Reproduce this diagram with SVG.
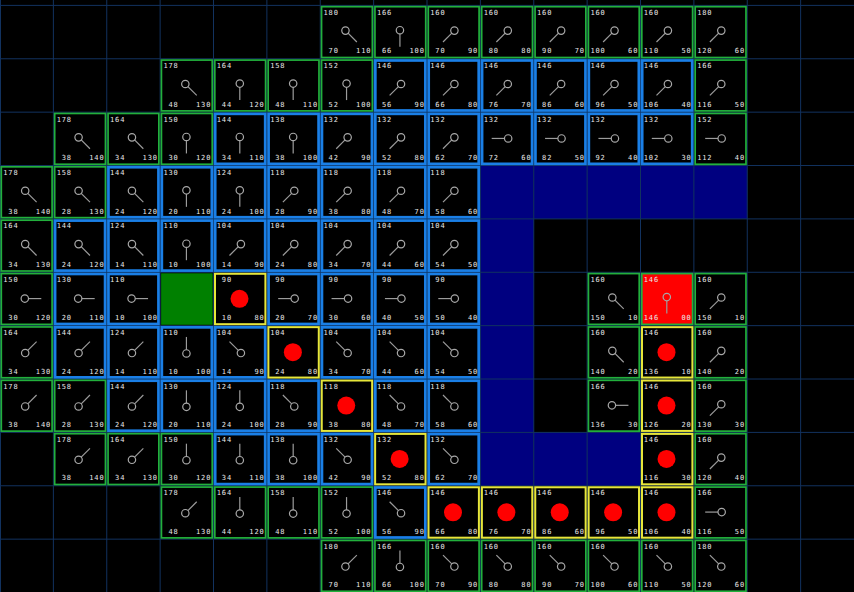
<svg xmlns="http://www.w3.org/2000/svg" xmlns:xlink="http://www.w3.org/1999/xlink" width="854" height="592" viewBox="0 0 854 592">
<style>
.t{font-family:"DejaVu Sans Mono","Liberation Mono",monospace;font-size:7px;letter-spacing:0.9px;fill:#e8e8e8;text-anchor:end}
.ptr line{stroke:#9c9c9c;stroke-width:1.2}
.ptr circle{stroke:#a8a8a8;stroke-width:1.2;fill:none}
.wall{fill:#000080}
.grid{stroke:#12325f;stroke-width:1;fill:none}
</style>
<defs>
<rect id="bo" x="1.3" y="1.3" width="50.8" height="50.8" fill="#000" stroke="#22b03c" stroke-width="1.7"/>
<rect id="bc" x="1.7" y="1.7" width="50" height="50" fill="#000" stroke="#1a7fe6" stroke-width="2.7"/>
<g id="bp"><rect x="1.5" y="1.5" width="50.4" height="50.4" fill="#000" stroke="#e6e63a" stroke-width="2"/><circle cx="26" cy="26.5" r="9" fill="#ff0000"/></g>
<rect id="bg" x="1.3" y="1.3" width="50.8" height="50.8" fill="#ff0000" stroke="#22b03c" stroke-width="1.7"/>
<g id="d" class="ptr"><line x1="26.3" y1="28.5" x2="26.3" y2="41.3"/><circle cx="26.3" cy="24.8" r="3.7"/></g>
<g id="u" class="ptr"><line x1="26.3" y1="24.1" x2="26.3" y2="11.3"/><circle cx="26.3" cy="27.8" r="3.7"/></g>
<g id="r" class="ptr"><line x1="28.5" y1="26.3" x2="41.3" y2="26.3"/><circle cx="24.8" cy="26.3" r="3.7"/></g>
<g id="l" class="ptr"><line x1="24.1" y1="26.3" x2="11.3" y2="26.3"/><circle cx="27.8" cy="26.3" r="3.7"/></g>
<g id="dr" class="ptr"><line x1="27.8" y1="27.8" x2="36.6" y2="36.6"/><circle cx="25.2" cy="25.2" r="3.7"/></g>
<g id="dl" class="ptr"><line x1="24.8" y1="27.8" x2="16" y2="36.6"/><circle cx="27.4" cy="25.2" r="3.7"/></g>
<g id="ur" class="ptr"><line x1="27.8" y1="24.8" x2="36.6" y2="16"/><circle cx="25.2" cy="27.4" r="3.7"/></g>
<g id="ul" class="ptr"><line x1="24.8" y1="24.8" x2="16" y2="16"/><circle cx="27.4" cy="27.4" r="3.7"/></g>
</defs>
<rect width="854" height="592" fill="#000"/>
<g id="walls">
<rect class="wall" x="480.38" y="165.53" width="53.38" height="320.25"/>
<rect class="wall" x="533.75" y="165.53" width="213.5" height="53.38"/>
<rect class="wall" x="533.75" y="432.4" width="106.75" height="53.38"/>
</g>
<path id="grid" class="grid" d="M0.5 0V592M53.38 0V592M106.75 0V592M160.13 0V592M213.5 0V592M266.88 0V592M320.25 0V592M373.63 0V592M427 0V592M480.38 0V592M533.75 0V592M587.13 0V592M640.5 0V592M693.88 0V592M747.25 0V592M800.63 0V592M0 5.4H854M0 58.78H854M0 112.15H854M0 165.53H854M0 218.9H854M0 272.28H854M0 325.65H854M0 379.03H854M0 432.4H854M0 485.78H854M0 539.15H854"/>
<g id="start" transform="translate(160.13,272.28)"><rect x="1" y="1" width="51.5" height="51.5" fill="#008000"/></g>
<g id="nodes">
<!-- row 0 -->
<g id="r0c6" transform="translate(320.25,5.4)"><use href="#bo"/><text class="t" x="18.6" y="9.6">180</text><text class="t" x="18.6" y="48">70</text><text class="t" x="51.2" y="48">110</text></g>
<g id="r0c7" transform="translate(373.63,5.4)"><use href="#bo"/><text class="t" x="18.6" y="9.6">166</text><text class="t" x="18.6" y="48">66</text><text class="t" x="51.2" y="48">100</text></g>
<g id="r0c8" transform="translate(427,5.4)"><use href="#bo"/><text class="t" x="18.6" y="9.6">160</text><text class="t" x="18.6" y="48">70</text><text class="t" x="51.2" y="48">90</text></g>
<g id="r0c9" transform="translate(480.38,5.4)"><use href="#bo"/><text class="t" x="18.6" y="9.6">160</text><text class="t" x="18.6" y="48">80</text><text class="t" x="51.2" y="48">80</text></g>
<g id="r0c10" transform="translate(533.75,5.4)"><use href="#bo"/><text class="t" x="18.6" y="9.6">160</text><text class="t" x="18.6" y="48">90</text><text class="t" x="51.2" y="48">70</text></g>
<g id="r0c11" transform="translate(587.13,5.4)"><use href="#bo"/><text class="t" x="18.6" y="9.6">160</text><text class="t" x="18.6" y="48">100</text><text class="t" x="51.2" y="48">60</text></g>
<g id="r0c12" transform="translate(640.5,5.4)"><use href="#bo"/><text class="t" x="18.6" y="9.6">160</text><text class="t" x="18.6" y="48">110</text><text class="t" x="51.2" y="48">50</text></g>
<g id="r0c13" transform="translate(693.88,5.4)"><use href="#bo"/><text class="t" x="18.6" y="9.6">180</text><text class="t" x="18.6" y="48">120</text><text class="t" x="51.2" y="48">60</text></g>
<!-- row 1 -->
<g id="r1c3" transform="translate(160.13,58.78)"><use href="#bo"/><text class="t" x="18.6" y="9.6">178</text><text class="t" x="18.6" y="48">48</text><text class="t" x="51.2" y="48">130</text></g>
<g id="r1c4" transform="translate(213.5,58.78)"><use href="#bo"/><text class="t" x="18.6" y="9.6">164</text><text class="t" x="18.6" y="48">44</text><text class="t" x="51.2" y="48">120</text></g>
<g id="r1c5" transform="translate(266.88,58.78)"><use href="#bo"/><text class="t" x="18.6" y="9.6">158</text><text class="t" x="18.6" y="48">48</text><text class="t" x="51.2" y="48">110</text></g>
<g id="r1c6" transform="translate(320.25,58.78)"><use href="#bo"/><text class="t" x="18.6" y="9.6">152</text><text class="t" x="18.6" y="48">52</text><text class="t" x="51.2" y="48">100</text></g>
<g id="r1c7" transform="translate(373.63,58.78)"><use href="#bc"/><text class="t" x="18.6" y="9.6">146</text><text class="t" x="18.6" y="48">56</text><text class="t" x="51.2" y="48">90</text></g>
<g id="r1c8" transform="translate(427,58.78)"><use href="#bc"/><text class="t" x="18.6" y="9.6">146</text><text class="t" x="18.6" y="48">66</text><text class="t" x="51.2" y="48">80</text></g>
<g id="r1c9" transform="translate(480.38,58.78)"><use href="#bc"/><text class="t" x="18.6" y="9.6">146</text><text class="t" x="18.6" y="48">76</text><text class="t" x="51.2" y="48">70</text></g>
<g id="r1c10" transform="translate(533.75,58.78)"><use href="#bc"/><text class="t" x="18.6" y="9.6">146</text><text class="t" x="18.6" y="48">86</text><text class="t" x="51.2" y="48">60</text></g>
<g id="r1c11" transform="translate(587.13,58.78)"><use href="#bc"/><text class="t" x="18.6" y="9.6">146</text><text class="t" x="18.6" y="48">96</text><text class="t" x="51.2" y="48">50</text></g>
<g id="r1c12" transform="translate(640.5,58.78)"><use href="#bc"/><text class="t" x="18.6" y="9.6">146</text><text class="t" x="18.6" y="48">106</text><text class="t" x="51.2" y="48">40</text></g>
<g id="r1c13" transform="translate(693.88,58.78)"><use href="#bo"/><text class="t" x="18.6" y="9.6">166</text><text class="t" x="18.6" y="48">116</text><text class="t" x="51.2" y="48">50</text></g>
<!-- row 2 -->
<g id="r2c1" transform="translate(53.38,112.15)"><use href="#bo"/><text class="t" x="18.6" y="9.6">178</text><text class="t" x="18.6" y="48">38</text><text class="t" x="51.2" y="48">140</text></g>
<g id="r2c2" transform="translate(106.75,112.15)"><use href="#bo"/><text class="t" x="18.6" y="9.6">164</text><text class="t" x="18.6" y="48">34</text><text class="t" x="51.2" y="48">130</text></g>
<g id="r2c3" transform="translate(160.13,112.15)"><use href="#bo"/><text class="t" x="18.6" y="9.6">150</text><text class="t" x="18.6" y="48">30</text><text class="t" x="51.2" y="48">120</text></g>
<g id="r2c4" transform="translate(213.5,112.15)"><use href="#bc"/><text class="t" x="18.6" y="9.6">144</text><text class="t" x="18.6" y="48">34</text><text class="t" x="51.2" y="48">110</text></g>
<g id="r2c5" transform="translate(266.88,112.15)"><use href="#bc"/><text class="t" x="18.6" y="9.6">138</text><text class="t" x="18.6" y="48">38</text><text class="t" x="51.2" y="48">100</text></g>
<g id="r2c6" transform="translate(320.25,112.15)"><use href="#bc"/><text class="t" x="18.6" y="9.6">132</text><text class="t" x="18.6" y="48">42</text><text class="t" x="51.2" y="48">90</text></g>
<g id="r2c7" transform="translate(373.63,112.15)"><use href="#bc"/><text class="t" x="18.6" y="9.6">132</text><text class="t" x="18.6" y="48">52</text><text class="t" x="51.2" y="48">80</text></g>
<g id="r2c8" transform="translate(427,112.15)"><use href="#bc"/><text class="t" x="18.6" y="9.6">132</text><text class="t" x="18.6" y="48">62</text><text class="t" x="51.2" y="48">70</text></g>
<g id="r2c9" transform="translate(480.38,112.15)"><use href="#bc"/><text class="t" x="18.6" y="9.6">132</text><text class="t" x="18.6" y="48">72</text><text class="t" x="51.2" y="48">60</text></g>
<g id="r2c10" transform="translate(533.75,112.15)"><use href="#bc"/><text class="t" x="18.6" y="9.6">132</text><text class="t" x="18.6" y="48">82</text><text class="t" x="51.2" y="48">50</text></g>
<g id="r2c11" transform="translate(587.13,112.15)"><use href="#bc"/><text class="t" x="18.6" y="9.6">132</text><text class="t" x="18.6" y="48">92</text><text class="t" x="51.2" y="48">40</text></g>
<g id="r2c12" transform="translate(640.5,112.15)"><use href="#bc"/><text class="t" x="18.6" y="9.6">132</text><text class="t" x="18.6" y="48">102</text><text class="t" x="51.2" y="48">30</text></g>
<g id="r2c13" transform="translate(693.88,112.15)"><use href="#bo"/><text class="t" x="18.6" y="9.6">152</text><text class="t" x="18.6" y="48">112</text><text class="t" x="51.2" y="48">40</text></g>
<!-- row 3 -->
<g id="r3c0" transform="translate(0,165.53)"><use href="#bo"/><text class="t" x="18.6" y="9.6">178</text><text class="t" x="18.6" y="48">38</text><text class="t" x="51.2" y="48">140</text></g>
<g id="r3c1" transform="translate(53.38,165.53)"><use href="#bo"/><text class="t" x="18.6" y="9.6">158</text><text class="t" x="18.6" y="48">28</text><text class="t" x="51.2" y="48">130</text></g>
<g id="r3c2" transform="translate(106.75,165.53)"><use href="#bc"/><text class="t" x="18.6" y="9.6">144</text><text class="t" x="18.6" y="48">24</text><text class="t" x="51.2" y="48">120</text></g>
<g id="r3c3" transform="translate(160.13,165.53)"><use href="#bc"/><text class="t" x="18.6" y="9.6">130</text><text class="t" x="18.6" y="48">20</text><text class="t" x="51.2" y="48">110</text></g>
<g id="r3c4" transform="translate(213.5,165.53)"><use href="#bc"/><text class="t" x="18.6" y="9.6">124</text><text class="t" x="18.6" y="48">24</text><text class="t" x="51.2" y="48">100</text></g>
<g id="r3c5" transform="translate(266.88,165.53)"><use href="#bc"/><text class="t" x="18.6" y="9.6">118</text><text class="t" x="18.6" y="48">28</text><text class="t" x="51.2" y="48">90</text></g>
<g id="r3c6" transform="translate(320.25,165.53)"><use href="#bc"/><text class="t" x="18.6" y="9.6">118</text><text class="t" x="18.6" y="48">38</text><text class="t" x="51.2" y="48">80</text></g>
<g id="r3c7" transform="translate(373.63,165.53)"><use href="#bc"/><text class="t" x="18.6" y="9.6">118</text><text class="t" x="18.6" y="48">48</text><text class="t" x="51.2" y="48">70</text></g>
<g id="r3c8" transform="translate(427,165.53)"><use href="#bc"/><text class="t" x="18.6" y="9.6">118</text><text class="t" x="18.6" y="48">58</text><text class="t" x="51.2" y="48">60</text></g>
<!-- row 4 -->
<g id="r4c0" transform="translate(0,218.9)"><use href="#bo"/><text class="t" x="18.6" y="9.6">164</text><text class="t" x="18.6" y="48">34</text><text class="t" x="51.2" y="48">130</text></g>
<g id="r4c1" transform="translate(53.38,218.9)"><use href="#bc"/><text class="t" x="18.6" y="9.6">144</text><text class="t" x="18.6" y="48">24</text><text class="t" x="51.2" y="48">120</text></g>
<g id="r4c2" transform="translate(106.75,218.9)"><use href="#bc"/><text class="t" x="18.6" y="9.6">124</text><text class="t" x="18.6" y="48">14</text><text class="t" x="51.2" y="48">110</text></g>
<g id="r4c3" transform="translate(160.13,218.9)"><use href="#bc"/><text class="t" x="18.6" y="9.6">110</text><text class="t" x="18.6" y="48">10</text><text class="t" x="51.2" y="48">100</text></g>
<g id="r4c4" transform="translate(213.5,218.9)"><use href="#bc"/><text class="t" x="18.6" y="9.6">104</text><text class="t" x="18.6" y="48">14</text><text class="t" x="51.2" y="48">90</text></g>
<g id="r4c5" transform="translate(266.88,218.9)"><use href="#bc"/><text class="t" x="18.6" y="9.6">104</text><text class="t" x="18.6" y="48">24</text><text class="t" x="51.2" y="48">80</text></g>
<g id="r4c6" transform="translate(320.25,218.9)"><use href="#bc"/><text class="t" x="18.6" y="9.6">104</text><text class="t" x="18.6" y="48">34</text><text class="t" x="51.2" y="48">70</text></g>
<g id="r4c7" transform="translate(373.63,218.9)"><use href="#bc"/><text class="t" x="18.6" y="9.6">104</text><text class="t" x="18.6" y="48">44</text><text class="t" x="51.2" y="48">60</text></g>
<g id="r4c8" transform="translate(427,218.9)"><use href="#bc"/><text class="t" x="18.6" y="9.6">104</text><text class="t" x="18.6" y="48">54</text><text class="t" x="51.2" y="48">50</text></g>
<!-- row 5 -->
<g id="r5c0" transform="translate(0,272.28)"><use href="#bo"/><text class="t" x="18.6" y="9.6">150</text><text class="t" x="18.6" y="48">30</text><text class="t" x="51.2" y="48">120</text></g>
<g id="r5c1" transform="translate(53.38,272.28)"><use href="#bc"/><text class="t" x="18.6" y="9.6">130</text><text class="t" x="18.6" y="48">20</text><text class="t" x="51.2" y="48">110</text></g>
<g id="r5c2" transform="translate(106.75,272.28)"><use href="#bc"/><text class="t" x="18.6" y="9.6">110</text><text class="t" x="18.6" y="48">10</text><text class="t" x="51.2" y="48">100</text></g>
<g id="r5c4" transform="translate(213.5,272.28)"><use href="#bp"/><text class="t" x="18.6" y="9.6">90</text><text class="t" x="18.6" y="48">10</text><text class="t" x="51.2" y="48">80</text></g>
<g id="r5c5" transform="translate(266.88,272.28)"><use href="#bc"/><text class="t" x="18.6" y="9.6">90</text><text class="t" x="18.6" y="48">20</text><text class="t" x="51.2" y="48">70</text></g>
<g id="r5c6" transform="translate(320.25,272.28)"><use href="#bc"/><text class="t" x="18.6" y="9.6">90</text><text class="t" x="18.6" y="48">30</text><text class="t" x="51.2" y="48">60</text></g>
<g id="r5c7" transform="translate(373.63,272.28)"><use href="#bc"/><text class="t" x="18.6" y="9.6">90</text><text class="t" x="18.6" y="48">40</text><text class="t" x="51.2" y="48">50</text></g>
<g id="r5c8" transform="translate(427,272.28)"><use href="#bc"/><text class="t" x="18.6" y="9.6">90</text><text class="t" x="18.6" y="48">50</text><text class="t" x="51.2" y="48">40</text></g>
<g id="r5c11" transform="translate(587.13,272.28)"><use href="#bo"/><text class="t" x="18.6" y="9.6">160</text><text class="t" x="18.6" y="48">150</text><text class="t" x="51.2" y="48">10</text></g>
<g id="goal" transform="translate(640.5,272.28)"><use href="#bg"/><text class="t" x="18.6" y="9.6">146</text><text class="t" x="18.6" y="48">146</text><text class="t" x="51.2" y="48">00</text></g>
<g id="r5c13" transform="translate(693.88,272.28)"><use href="#bo"/><text class="t" x="18.6" y="9.6">160</text><text class="t" x="18.6" y="48">150</text><text class="t" x="51.2" y="48">10</text></g>
<!-- row 6 -->
<g id="r6c0" transform="translate(0,325.65)"><use href="#bo"/><text class="t" x="18.6" y="9.6">164</text><text class="t" x="18.6" y="48">34</text><text class="t" x="51.2" y="48">130</text></g>
<g id="r6c1" transform="translate(53.38,325.65)"><use href="#bc"/><text class="t" x="18.6" y="9.6">144</text><text class="t" x="18.6" y="48">24</text><text class="t" x="51.2" y="48">120</text></g>
<g id="r6c2" transform="translate(106.75,325.65)"><use href="#bc"/><text class="t" x="18.6" y="9.6">124</text><text class="t" x="18.6" y="48">14</text><text class="t" x="51.2" y="48">110</text></g>
<g id="r6c3" transform="translate(160.13,325.65)"><use href="#bc"/><text class="t" x="18.6" y="9.6">110</text><text class="t" x="18.6" y="48">10</text><text class="t" x="51.2" y="48">100</text></g>
<g id="r6c4" transform="translate(213.5,325.65)"><use href="#bc"/><text class="t" x="18.6" y="9.6">104</text><text class="t" x="18.6" y="48">14</text><text class="t" x="51.2" y="48">90</text></g>
<g id="r6c5" transform="translate(266.88,325.65)"><use href="#bp"/><text class="t" x="18.6" y="9.6">104</text><text class="t" x="18.6" y="48">24</text><text class="t" x="51.2" y="48">80</text></g>
<g id="r6c6" transform="translate(320.25,325.65)"><use href="#bc"/><text class="t" x="18.6" y="9.6">104</text><text class="t" x="18.6" y="48">34</text><text class="t" x="51.2" y="48">70</text></g>
<g id="r6c7" transform="translate(373.63,325.65)"><use href="#bc"/><text class="t" x="18.6" y="9.6">104</text><text class="t" x="18.6" y="48">44</text><text class="t" x="51.2" y="48">60</text></g>
<g id="r6c8" transform="translate(427,325.65)"><use href="#bc"/><text class="t" x="18.6" y="9.6">104</text><text class="t" x="18.6" y="48">54</text><text class="t" x="51.2" y="48">50</text></g>
<g id="r6c11" transform="translate(587.13,325.65)"><use href="#bo"/><text class="t" x="18.6" y="9.6">160</text><text class="t" x="18.6" y="48">140</text><text class="t" x="51.2" y="48">20</text></g>
<g id="r6c12" transform="translate(640.5,325.65)"><use href="#bp"/><text class="t" x="18.6" y="9.6">146</text><text class="t" x="18.6" y="48">136</text><text class="t" x="51.2" y="48">10</text></g>
<g id="r6c13" transform="translate(693.88,325.65)"><use href="#bo"/><text class="t" x="18.6" y="9.6">160</text><text class="t" x="18.6" y="48">140</text><text class="t" x="51.2" y="48">20</text></g>
<!-- row 7 -->
<g id="r7c0" transform="translate(0,379.03)"><use href="#bo"/><text class="t" x="18.6" y="9.6">178</text><text class="t" x="18.6" y="48">38</text><text class="t" x="51.2" y="48">140</text></g>
<g id="r7c1" transform="translate(53.38,379.03)"><use href="#bo"/><text class="t" x="18.6" y="9.6">158</text><text class="t" x="18.6" y="48">28</text><text class="t" x="51.2" y="48">130</text></g>
<g id="r7c2" transform="translate(106.75,379.03)"><use href="#bc"/><text class="t" x="18.6" y="9.6">144</text><text class="t" x="18.6" y="48">24</text><text class="t" x="51.2" y="48">120</text></g>
<g id="r7c3" transform="translate(160.13,379.03)"><use href="#bc"/><text class="t" x="18.6" y="9.6">130</text><text class="t" x="18.6" y="48">20</text><text class="t" x="51.2" y="48">110</text></g>
<g id="r7c4" transform="translate(213.5,379.03)"><use href="#bc"/><text class="t" x="18.6" y="9.6">124</text><text class="t" x="18.6" y="48">24</text><text class="t" x="51.2" y="48">100</text></g>
<g id="r7c5" transform="translate(266.88,379.03)"><use href="#bc"/><text class="t" x="18.6" y="9.6">118</text><text class="t" x="18.6" y="48">28</text><text class="t" x="51.2" y="48">90</text></g>
<g id="r7c6" transform="translate(320.25,379.03)"><use href="#bp"/><text class="t" x="18.6" y="9.6">118</text><text class="t" x="18.6" y="48">38</text><text class="t" x="51.2" y="48">80</text></g>
<g id="r7c7" transform="translate(373.63,379.03)"><use href="#bc"/><text class="t" x="18.6" y="9.6">118</text><text class="t" x="18.6" y="48">48</text><text class="t" x="51.2" y="48">70</text></g>
<g id="r7c8" transform="translate(427,379.03)"><use href="#bc"/><text class="t" x="18.6" y="9.6">118</text><text class="t" x="18.6" y="48">58</text><text class="t" x="51.2" y="48">60</text></g>
<g id="r7c11" transform="translate(587.13,379.03)"><use href="#bo"/><text class="t" x="18.6" y="9.6">166</text><text class="t" x="18.6" y="48">136</text><text class="t" x="51.2" y="48">30</text></g>
<g id="r7c12" transform="translate(640.5,379.03)"><use href="#bp"/><text class="t" x="18.6" y="9.6">146</text><text class="t" x="18.6" y="48">126</text><text class="t" x="51.2" y="48">20</text></g>
<g id="r7c13" transform="translate(693.88,379.03)"><use href="#bo"/><text class="t" x="18.6" y="9.6">160</text><text class="t" x="18.6" y="48">130</text><text class="t" x="51.2" y="48">30</text></g>
<!-- row 8 -->
<g id="r8c1" transform="translate(53.38,432.4)"><use href="#bo"/><text class="t" x="18.6" y="9.6">178</text><text class="t" x="18.6" y="48">38</text><text class="t" x="51.2" y="48">140</text></g>
<g id="r8c2" transform="translate(106.75,432.4)"><use href="#bo"/><text class="t" x="18.6" y="9.6">164</text><text class="t" x="18.6" y="48">34</text><text class="t" x="51.2" y="48">130</text></g>
<g id="r8c3" transform="translate(160.13,432.4)"><use href="#bo"/><text class="t" x="18.6" y="9.6">150</text><text class="t" x="18.6" y="48">30</text><text class="t" x="51.2" y="48">120</text></g>
<g id="r8c4" transform="translate(213.5,432.4)"><use href="#bc"/><text class="t" x="18.6" y="9.6">144</text><text class="t" x="18.6" y="48">34</text><text class="t" x="51.2" y="48">110</text></g>
<g id="r8c5" transform="translate(266.88,432.4)"><use href="#bc"/><text class="t" x="18.6" y="9.6">138</text><text class="t" x="18.6" y="48">38</text><text class="t" x="51.2" y="48">100</text></g>
<g id="r8c6" transform="translate(320.25,432.4)"><use href="#bc"/><text class="t" x="18.6" y="9.6">132</text><text class="t" x="18.6" y="48">42</text><text class="t" x="51.2" y="48">90</text></g>
<g id="r8c7" transform="translate(373.63,432.4)"><use href="#bp"/><text class="t" x="18.6" y="9.6">132</text><text class="t" x="18.6" y="48">52</text><text class="t" x="51.2" y="48">80</text></g>
<g id="r8c8" transform="translate(427,432.4)"><use href="#bc"/><text class="t" x="18.6" y="9.6">132</text><text class="t" x="18.6" y="48">62</text><text class="t" x="51.2" y="48">70</text></g>
<g id="r8c12" transform="translate(640.5,432.4)"><use href="#bp"/><text class="t" x="18.6" y="9.6">146</text><text class="t" x="18.6" y="48">116</text><text class="t" x="51.2" y="48">30</text></g>
<g id="r8c13" transform="translate(693.88,432.4)"><use href="#bo"/><text class="t" x="18.6" y="9.6">160</text><text class="t" x="18.6" y="48">120</text><text class="t" x="51.2" y="48">40</text></g>
<!-- row 9 -->
<g id="r9c3" transform="translate(160.13,485.78)"><use href="#bo"/><text class="t" x="18.6" y="9.6">178</text><text class="t" x="18.6" y="48">48</text><text class="t" x="51.2" y="48">130</text></g>
<g id="r9c4" transform="translate(213.5,485.78)"><use href="#bo"/><text class="t" x="18.6" y="9.6">164</text><text class="t" x="18.6" y="48">44</text><text class="t" x="51.2" y="48">120</text></g>
<g id="r9c5" transform="translate(266.88,485.78)"><use href="#bo"/><text class="t" x="18.6" y="9.6">158</text><text class="t" x="18.6" y="48">48</text><text class="t" x="51.2" y="48">110</text></g>
<g id="r9c6" transform="translate(320.25,485.78)"><use href="#bo"/><text class="t" x="18.6" y="9.6">152</text><text class="t" x="18.6" y="48">52</text><text class="t" x="51.2" y="48">100</text></g>
<g id="r9c7" transform="translate(373.63,485.78)"><use href="#bc"/><text class="t" x="18.6" y="9.6">146</text><text class="t" x="18.6" y="48">56</text><text class="t" x="51.2" y="48">90</text></g>
<g id="r9c8" transform="translate(427,485.78)"><use href="#bp"/><text class="t" x="18.6" y="9.6">146</text><text class="t" x="18.6" y="48">66</text><text class="t" x="51.2" y="48">80</text></g>
<g id="r9c9" transform="translate(480.38,485.78)"><use href="#bp"/><text class="t" x="18.6" y="9.6">146</text><text class="t" x="18.6" y="48">76</text><text class="t" x="51.2" y="48">70</text></g>
<g id="r9c10" transform="translate(533.75,485.78)"><use href="#bp"/><text class="t" x="18.6" y="9.6">146</text><text class="t" x="18.6" y="48">86</text><text class="t" x="51.2" y="48">60</text></g>
<g id="r9c11" transform="translate(587.13,485.78)"><use href="#bp"/><text class="t" x="18.6" y="9.6">146</text><text class="t" x="18.6" y="48">96</text><text class="t" x="51.2" y="48">50</text></g>
<g id="r9c12" transform="translate(640.5,485.78)"><use href="#bp"/><text class="t" x="18.6" y="9.6">146</text><text class="t" x="18.6" y="48">106</text><text class="t" x="51.2" y="48">40</text></g>
<g id="r9c13" transform="translate(693.88,485.78)"><use href="#bo"/><text class="t" x="18.6" y="9.6">166</text><text class="t" x="18.6" y="48">116</text><text class="t" x="51.2" y="48">50</text></g>
<!-- row 10 -->
<g id="r10c6" transform="translate(320.25,539.15)"><use href="#bo"/><text class="t" x="18.6" y="9.6">180</text><text class="t" x="18.6" y="48">70</text><text class="t" x="51.2" y="48">110</text></g>
<g id="r10c7" transform="translate(373.63,539.15)"><use href="#bo"/><text class="t" x="18.6" y="9.6">166</text><text class="t" x="18.6" y="48">66</text><text class="t" x="51.2" y="48">100</text></g>
<g id="r10c8" transform="translate(427,539.15)"><use href="#bo"/><text class="t" x="18.6" y="9.6">160</text><text class="t" x="18.6" y="48">70</text><text class="t" x="51.2" y="48">90</text></g>
<g id="r10c9" transform="translate(480.38,539.15)"><use href="#bo"/><text class="t" x="18.6" y="9.6">160</text><text class="t" x="18.6" y="48">80</text><text class="t" x="51.2" y="48">80</text></g>
<g id="r10c10" transform="translate(533.75,539.15)"><use href="#bo"/><text class="t" x="18.6" y="9.6">160</text><text class="t" x="18.6" y="48">90</text><text class="t" x="51.2" y="48">70</text></g>
<g id="r10c11" transform="translate(587.13,539.15)"><use href="#bo"/><text class="t" x="18.6" y="9.6">160</text><text class="t" x="18.6" y="48">100</text><text class="t" x="51.2" y="48">60</text></g>
<g id="r10c12" transform="translate(640.5,539.15)"><use href="#bo"/><text class="t" x="18.6" y="9.6">160</text><text class="t" x="18.6" y="48">110</text><text class="t" x="51.2" y="48">50</text></g>
<g id="r10c13" transform="translate(693.88,539.15)"><use href="#bo"/><text class="t" x="18.6" y="9.6">180</text><text class="t" x="18.6" y="48">120</text><text class="t" x="51.2" y="48">60</text></g>
</g>
<g id="connectors">
<use href="#dr" x="320.25" y="5.4"/><use href="#d" x="373.63" y="5.4"/><use href="#dl" x="427" y="5.4"/><use href="#dl" x="480.38" y="5.4"/><use href="#dl" x="533.75" y="5.4"/><use href="#dl" x="587.13" y="5.4"/><use href="#dl" x="640.5" y="5.4"/><use href="#dl" x="693.88" y="5.4"/>
<use href="#dr" x="160.13" y="58.78"/><use href="#d" x="213.5" y="58.78"/><use href="#d" x="266.88" y="58.78"/><use href="#d" x="320.25" y="58.78"/><use href="#dl" x="373.63" y="58.78"/><use href="#dl" x="427" y="58.78"/><use href="#dl" x="480.38" y="58.78"/><use href="#dl" x="533.75" y="58.78"/><use href="#dl" x="587.13" y="58.78"/><use href="#dl" x="640.5" y="58.78"/><use href="#dl" x="693.88" y="58.78"/>
<use href="#dr" x="53.38" y="112.15"/><use href="#dr" x="106.75" y="112.15"/><use href="#d" x="160.13" y="112.15"/><use href="#d" x="213.5" y="112.15"/><use href="#d" x="266.88" y="112.15"/><use href="#dl" x="320.25" y="112.15"/><use href="#dl" x="373.63" y="112.15"/><use href="#dl" x="427" y="112.15"/><use href="#l" x="480.38" y="112.15"/><use href="#l" x="533.75" y="112.15"/><use href="#l" x="587.13" y="112.15"/><use href="#l" x="640.5" y="112.15"/><use href="#l" x="693.88" y="112.15"/>
<use href="#dr" x="0" y="165.53"/><use href="#dr" x="53.38" y="165.53"/><use href="#dr" x="106.75" y="165.53"/><use href="#d" x="160.13" y="165.53"/><use href="#d" x="213.5" y="165.53"/><use href="#dl" x="266.88" y="165.53"/><use href="#dl" x="320.25" y="165.53"/><use href="#dl" x="373.63" y="165.53"/><use href="#dl" x="427" y="165.53"/>
<use href="#dr" x="0" y="218.9"/><use href="#dr" x="53.38" y="218.9"/><use href="#dr" x="106.75" y="218.9"/><use href="#d" x="160.13" y="218.9"/><use href="#dl" x="213.5" y="218.9"/><use href="#dl" x="266.88" y="218.9"/><use href="#dl" x="320.25" y="218.9"/><use href="#dl" x="373.63" y="218.9"/><use href="#dl" x="427" y="218.9"/>
<use href="#r" x="0" y="272.28"/><use href="#r" x="53.38" y="272.28"/><use href="#r" x="106.75" y="272.28"/><use href="#l" x="266.88" y="272.28"/><use href="#l" x="320.25" y="272.28"/><use href="#l" x="373.63" y="272.28"/><use href="#l" x="427" y="272.28"/><use href="#dr" x="587.13" y="272.28"/><use href="#d" x="640.5" y="272.28"/><use href="#dl" x="693.88" y="272.28"/>
<use href="#ur" x="0" y="325.65"/><use href="#ur" x="53.38" y="325.65"/><use href="#ur" x="106.75" y="325.65"/><use href="#u" x="160.13" y="325.65"/><use href="#ul" x="213.5" y="325.65"/><use href="#ul" x="320.25" y="325.65"/><use href="#ul" x="373.63" y="325.65"/><use href="#ul" x="427" y="325.65"/><use href="#dr" x="587.13" y="325.65"/><use href="#dl" x="693.88" y="325.65"/>
<use href="#ur" x="0" y="379.03"/><use href="#ur" x="53.38" y="379.03"/><use href="#ur" x="106.75" y="379.03"/><use href="#u" x="160.13" y="379.03"/><use href="#u" x="213.5" y="379.03"/><use href="#ul" x="266.88" y="379.03"/><use href="#ul" x="373.63" y="379.03"/><use href="#ul" x="427" y="379.03"/><use href="#r" x="587.13" y="379.03"/><use href="#dl" x="693.88" y="379.03"/>
<use href="#ur" x="53.38" y="432.4"/><use href="#ur" x="106.75" y="432.4"/><use href="#u" x="160.13" y="432.4"/><use href="#u" x="213.5" y="432.4"/><use href="#u" x="266.88" y="432.4"/><use href="#ul" x="320.25" y="432.4"/><use href="#ul" x="427" y="432.4"/><use href="#dl" x="693.88" y="432.4"/>
<use href="#ur" x="160.13" y="485.78"/><use href="#u" x="213.5" y="485.78"/><use href="#u" x="266.88" y="485.78"/><use href="#u" x="320.25" y="485.78"/><use href="#ul" x="373.63" y="485.78"/><use href="#l" x="693.88" y="485.78"/>
<use href="#ur" x="320.25" y="539.15"/><use href="#u" x="373.63" y="539.15"/><use href="#ul" x="427" y="539.15"/><use href="#ul" x="480.38" y="539.15"/><use href="#ul" x="533.75" y="539.15"/><use href="#ul" x="587.13" y="539.15"/><use href="#ul" x="640.5" y="539.15"/><use href="#ul" x="693.88" y="539.15"/>
</g>
</svg>
